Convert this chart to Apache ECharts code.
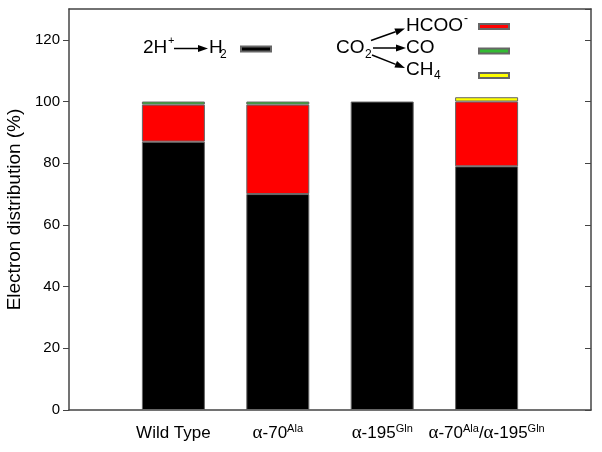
<!DOCTYPE html>
<html>
<head>
<meta charset="utf-8">
<script src="https://cdn.jsdelivr.net/npm/echarts@6/dist/echarts.min.js"></script>
<style>
  html, body { margin: 0; padding: 0; background: #fff; }
  #chart { width: 602px; height: 452px; }
</style>
</head>
<body>
<div id="chart"></div>
<script>
// categories (x axis) and stacked electron distribution (%)
var categories = ["Wild Type", "α-70Ala", "α-195Gln", "α-70Ala/α-195Gln"];
var h2Values = [87, 70, 100, 79];
var hcooValues = [12, 29, 0, 21];
var coValues = [1, 1, 0, 0];
var ch4Values = [0, 0, 0, 1.4];
var yTicks = [0, 20, 40, 60, 80, 100, 120];

var FONT = "Liberation Sans, Arial, sans-serif";
var chart = echarts.init(document.getElementById("chart"));

// axis has an empty slot on each side so the bars sit at 1..4 of 0..5
function padded(arr) {
  var out = [null];
  arr.forEach(function (v) { out.push(v === 0 ? "-" : v); });
  out.push(null);
  return out;
}
var axisCats = [""].concat(categories).concat([""]);

// rich text for the mutant labels
function richLabel(name) {
  if (!name) return "";
  return name
    .replace(/α/g, "{g|α}")
    .replace(/Ala/g, "{s|Ala}")
    .replace(/Gln/g, "{s|Gln}");
}

// arrow = line + small head
function arrow(x1, y1, x2, y2) {
  var dx = x2 - x1, dy = y2 - y1;
  var len = Math.sqrt(dx * dx + dy * dy);
  var ux = dx / len, uy = dy / len;
  var hl = 10, hw = 3.5;
  var bx = x2 - ux * hl, by = y2 - uy * hl;
  return [
    { type: "line", shape: { x1: x1, y1: y1, x2: bx, y2: by }, style: { stroke: "#000", lineWidth: 1.5 } },
    {
      type: "polygon",
      shape: { points: [[x2, y2], [bx - uy * hw, by + ux * hw], [bx + uy * hw, by - ux * hw]] },
      style: { fill: "#000" }
    }
  ];
}
function txt(x, y, s, size, align) {
  return {
    type: "text",
    style: { x: x, y: y, text: s, font: size + "px " + FONT, fill: "#000", align: align || "left", verticalAlign: "middle" }
  };
}

var graphics = []
  // 2H+ -> H2
  .concat([txt(143, 48, "2H", 19), txt(168, 41, "+", 11)])
  .concat(arrow(174, 48.5, 208, 48.5))
  .concat([txt(209, 48, "H", 19), txt(220, 55, "2", 12)])
  // CO2 -> HCOO- / CO / CH4
  .concat([txt(336, 48, "CO", 19), txt(365, 55, "2", 12)])
  .concat(arrow(371, 40.5, 405, 28.5))
  .concat(arrow(373, 48, 406, 48))
  .concat(arrow(372, 55, 405, 68))
  .concat([
    txt(406, 26, "HCOO", 19), txt(464, 19, "-", 12),
    txt(406, 48, "CO", 19),
    txt(406, 70, "CH", 19), txt(434, 76, "4", 12)
  ]);

var barBorder = { borderColor: "#666", borderWidth: 1 };
function series(name, data, color) {
  return {
    name: name,
    type: "bar",
    stack: "total",
    barWidth: 63,
    data: padded(data),
    itemStyle: Object.assign({ color: color }, barBorder)
  };
}

var emptyText = function () { return ""; };
var legendBase = {
  orient: "vertical",
  icon: "rect",
  itemWidth: 30,
  itemHeight: 5,
  padding: 0,
  selectedMode: false,
  formatter: emptyText,
  textStyle: { fontSize: 5, lineHeight: 5 }
};

var option = {
  animation: false,
  backgroundColor: "#fff",
  textStyle: { fontFamily: FONT },
  grid: { left: 69, right: 11, top: 9, bottom: 42, outerBoundsMode: "none", containLabel: false },
  legend: [
    Object.assign({}, legendBase, { data: ["H2"], left: 240, top: 45.5 }),
    Object.assign({}, legendBase, { data: ["HCOO-", "CO", "CH4"], left: 478, top: 23, itemGap: 17.5 })
  ],
  graphic: graphics,
  xAxis: [
    {
      type: "category",
      data: axisCats,
      boundaryGap: false,
      axisLine: { lineStyle: { color: "#444", width: 1.5 } },
      axisTick: { show: false },
      axisLabel: {
        interval: 0,
        margin: 13,
        color: "#000",
        fontSize: 17,
        fontFamily: FONT,
        lineHeight: 20,
        formatter: richLabel,
        rich: {
          g: { fontFamily: "Liberation Serif, serif", fontSize: 19, lineHeight: 20, color: "#000" },
          s: { fontSize: 11, lineHeight: 11, verticalAlign: "top", color: "#000" }
        }
      }
    },
    {
      type: "category",
      data: axisCats,
      boundaryGap: false,
      position: "top",
      axisLine: { onZero: false, lineStyle: { color: "#444", width: 1.5 } },
      axisTick: { show: false },
      axisLabel: { show: false }
    }
  ],
  yAxis: [
    {
      type: "value",
      min: 0,
      max: 130,
      interval: 20,
      name: "Electron distribution (%)",
      nameLocation: "middle",
      nameGap: 45,
      nameTextStyle: { fontSize: 19, color: "#000", fontFamily: FONT },
      splitLine: { show: false },
      axisLine: { show: true, lineStyle: { color: "#444", width: 1.5 } },
      axisTick: { show: true, length: 6, lineStyle: { color: "#444" } },
      axisLabel: {
        margin: 9,
        color: "#000",
        fontSize: 15,
        showMaxLabel: false,
        formatter: function (v) { return yTicks.indexOf(v) >= 0 ? String(v) : ""; }
      }
    },
    {
      type: "value",
      min: 0,
      max: 130,
      interval: 20,
      position: "right",
      splitLine: { show: false },
      axisLine: { show: true, onZero: false, lineStyle: { color: "#444", width: 1.5 } },
      axisTick: { show: true, inside: true, length: 6, lineStyle: { color: "#444" } },
      axisLabel: { show: false }
    }
  ],
  series: [
    series("H2", h2Values, "#000000"),
    series("HCOO-", hcooValues, "#ff0000"),
    series("CO", coValues, "#33bb33"),
    series("CH4", ch4Values, "#ffff00")
  ]
};

chart.setOption(option);
</script>
</body>
</html>
